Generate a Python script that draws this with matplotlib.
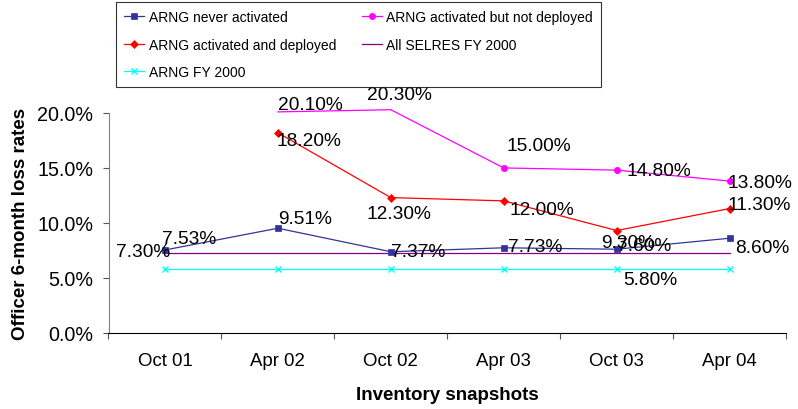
import matplotlib
matplotlib.use("Agg")
import matplotlib.pyplot as plt
import numpy as np
from matplotlib.ticker import FuncFormatter

plt.rcParams['font.family'] = ['Liberation Sans', 'DejaVu Sans']

# ---------------- data ----------------
categories = ["Oct 01", "Apr 02", "Oct 02", "Apr 03", "Oct 03", "Apr 04"]
never_activated = [7.53, 9.51, 7.37, 7.73, 7.60, 8.60]
activated_not_deployed = [np.nan, 20.10, 20.30, 15.00, 14.80, 13.80]
activated_deployed = [np.nan, 18.20, 12.30, 12.00, 9.30, 11.30]
all_selres_fy2000 = [7.30, 7.30, 7.30, 7.30, 7.30, 7.30]
arng_fy2000 = [5.80, 5.80, 5.80, 5.80, 5.80, 5.80]
yticks = [0, 5, 10, 15, 20]

# label offsets (px) per point: (dx, dy, ha) -- None = no label
never_lbl = [(-3, 11, 'left'), (0, 10, 'left'), (0, 0, 'left'),
             (4, 1, 'left'), (0, 4, 'left'), (6, -9, 'left')]
notdep_lbl = [None, (0, 7, 'left'), (-24, 15, 'left'), (3, 22, 'left'),
              (10, 0, 'left'), (-2, -1, 'left')]
dep_lbl = [None, (-1, -8, 'left'), (-24, -16, 'left'), (6, -9, 'left'),
           (-15, -12, 'left'), (-2, 4, 'left')]
selres_lbl = [(5, 1, 'right'), None, None, None, None, None]
fy_lbl = [None, None, None, None, (7, -11, 'left'), None]

DPI = 100
fig = plt.figure(figsize=(7.98, 4.10), dpi=DPI)
ax = fig.add_axes([108.5 / 798, 1 - 333.7 / 410, (786 - 108.5) / 798, (333.7 - 114) / 410])

x = np.arange(len(categories))
ymax = 20

series = [
    ("ARNG never activated", never_activated, '#333399', 's', 4.5, never_lbl),
    ("ARNG activated but not deployed", activated_not_deployed, '#FF00FF', 'o', 4.5, notdep_lbl),
    ("ARNG activated and deployed", activated_deployed, '#FF0000', 'D', 4.0, dep_lbl),
    ("All SELRES FY 2000", all_selres_fy2000, '#800080', None, 0, selres_lbl),
    ("ARNG FY 2000", arng_fy2000, '#00FFFF', 'x', 5, fy_lbl),
]

handles = {}
for name, vals, col, mk, ms, lbls in series:
    vals = np.array(vals, dtype=float)
    ln, = ax.plot(x, vals, color=col, lw=0.9, clip_on=False, zorder=3)
    if mk is not None:
        visible = [(not np.isnan(v)) and v <= ymax for v in vals]
        ax.plot(x, vals, color=col, lw=0, marker=mk, ms=ms, mew=1.0 if mk == 'x' else 0.5,
                markevery=visible, zorder=4)
    h, = ax.plot([], [], color=col, lw=0.9, marker=mk, ms=ms, mew=1.0 if mk == 'x' else 0.5)
    handles[name] = h
    for xi, v, lb in zip(x, vals, lbls):
        if lb is None or np.isnan(v):
            continue
        dx, dy, ha = lb
        ax.annotate(f"{v:.2f}%", (xi, v), xytext=(dx * 0.72, dy * 0.72),
                    textcoords='offset points', ha=ha, va='center',
                    fontsize=13.8, color='black', annotation_clip=False, zorder=5)

ax.set_xlim(-0.5, len(categories) - 0.5)
ax.set_ylim(0, ymax)
ax.set_yticks(yticks)
ax.yaxis.set_major_formatter(FuncFormatter(lambda v, p: f"{v:.1f}%"))
ax.set_xticks(x)
ax.set_xticklabels(categories)
ax.set_xticks(np.arange(len(categories) + 1) - 0.5, minor=True)
ax.tick_params(axis='x', which='major', length=0, pad=14, labelsize=13.4)
ax.tick_params(axis='x', which='minor', length=4, width=0.8, direction='out', color='#555555')
ax.tick_params(axis='y', which='major', length=4, width=0.8, direction='out', pad=7,
               labelsize=14.2, color='#555555')
for s in ['top', 'right']:
    ax.spines[s].set_visible(False)
ax.spines['left'].set_color('#808080')
ax.spines['left'].set_linewidth(0.8)
ax.spines['bottom'].set_color('black')
ax.spines['bottom'].set_linewidth(0.8)

ax.set_xlabel("Inventory snapshots", fontsize=13.5, fontweight='bold', labelpad=12)
ax.set_ylabel("Officer 6-month loss rates", fontsize=13.5, fontweight='bold', labelpad=6)

order = ["ARNG never activated", "ARNG activated and deployed", "ARNG FY 2000",
         "ARNG activated but not deployed", "All SELRES FY 2000"]
leg = fig.legend([handles[n] for n in order], order, ncol=2, loc='upper left',
                 bbox_to_anchor=(116 / 798, 1 - 3 / 410), bbox_transform=fig.transFigure,
                 fontsize=10, frameon=True, fancybox=False, borderaxespad=0,
                 numpoints=1, handlelength=1.45, handletextpad=0.3, columnspacing=1.85,
                 labelspacing=0.95, borderpad=0.6)
leg.get_frame().set_edgecolor('black')
leg.get_frame().set_linewidth(0.8)

fig.savefig("out.png", dpi=DPI)
